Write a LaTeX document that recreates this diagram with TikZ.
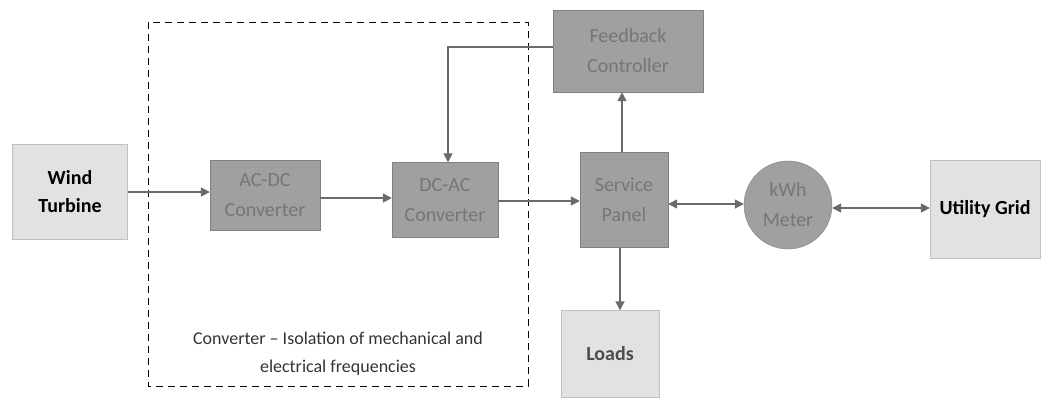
\documentclass[tikz,border=0pt]{standalone}
\usepackage{fontspec}
\setmainfont{Carlito}
\usetikzlibrary{arrows.meta}
\definecolor{boxgray}{HTML}{A0A0A0}
\definecolor{lightbox}{HTML}{E2E2E2}
\definecolor{txtgray}{HTML}{767676}
\definecolor{linegray}{HTML}{6A6A6A}
\begin{document}
\begin{tikzpicture}[x=1pt,y=-1pt,
  darkbox/.style={draw=boxgray!80!black,fill=boxgray,text=txtgray,font=\fontsize{20}{30}\selectfont,align=center,inner sep=0pt},
  litebox/.style={draw=lightbox!85!black,fill=lightbox,font=\bfseries\fontsize{20}{28}\selectfont,align=center,inner sep=0pt},
  conn/.style={draw=linegray,line width=1.6pt,-{Triangle[length=9pt,width=9pt]}},
  bconn/.style={draw=linegray,line width=1.6pt,{Triangle[length=9pt,width=9pt]}-{Triangle[length=9pt,width=9pt]}}]
\useasboundingbox (0,0) rectangle (1046,402);
\draw[dashed,line width=0.9pt,dash pattern=on 7pt off 5pt] (148,22) rectangle (528,386);
\node (lbl) at (338,354) [font=\fontsize{18}{28}\selectfont,align=center,text=black!80] {Converter -- Isolation of mechanical and\\electrical frequencies};
\node (wt) [litebox,minimum width=115pt,minimum height=95pt,text=black] at (70,192) {Wind\\Turbine};
\node (acdc) [darkbox,minimum width=110pt,minimum height=70pt] at (265,195) {AC-DC\\Converter};
\node (dcac) [darkbox,minimum width=106pt,minimum height=75pt] at (445,200) {DC-AC\\Converter};
\node (fb) [darkbox,minimum width=150pt,minimum height=82pt] at (628,51) {Feedback\\Controller};
\node (sp) [darkbox,minimum width=88pt,minimum height=95pt] at (624,200) {Service\\Panel};
\node (kwh) [darkbox,circle,minimum size=88pt] at (788,205) {kWh\\Meter};
\node (ug) [litebox,minimum width=110pt,minimum height=98pt,text=black] at (985,209) {Utility Grid};
\node (ld) [litebox,minimum width=98pt,minimum height=87pt,text=black!70] at (610,354) {Loads};
\draw[conn] (wt.east |- 0,192) -- (acdc.west |- 0,192);
\draw[conn] (acdc.east |- 0,198) -- (dcac.west |- 0,198);
\draw[conn] (dcac.east |- 0,201) -- (sp.west |- 0,201);
\draw[conn] (sp.north -| 622,0) -- (fb.south -| 622,0);
\draw[conn] (fb.west |- 0,47) -- (448,47) -- (dcac.north -| 448,0);
\draw[conn] (sp.south -| 620,0) -- (ld.north -| 620,0);
\draw[bconn] (sp.east |- 0,204) -- (kwh.west |- 0,204);
\draw[bconn] (kwh.east |- 0,208) -- (ug.west |- 0,208);
\end{tikzpicture}
\end{document}
